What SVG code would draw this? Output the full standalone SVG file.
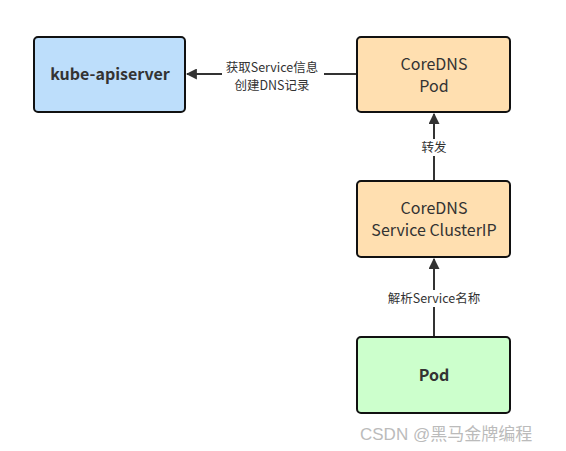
<svg xmlns="http://www.w3.org/2000/svg" width="566" height="451" viewBox="0 0 566 451">
<defs>
<style>
.box{stroke:#111;stroke-width:2}
.t{font-family:"Noto Sans CJK SC","Noto Sans",sans-serif;font-size:16px;fill:#333;text-anchor:middle}
.b{font-weight:bold}
.lbl{font-family:"Noto Sans CJK SC","Noto Sans",sans-serif;font-size:12.5px;fill:#333;text-anchor:middle}
.edge{stroke:#333;stroke-width:2;fill:none}
.wm{font-family:"Liberation Sans","Noto Sans CJK SC",sans-serif;font-size:17px;fill:#bbb}
</style>
<marker id="arr" viewBox="0 0 10 10" refX="9" refY="5" markerWidth="5.5" markerHeight="5.5" orient="auto">
<path d="M0,0 L10,5 L0,10 z" fill="#333"/>
</marker>
</defs>
<rect width="566" height="451" fill="#fff"/>
<g id="connectors">
<line class="edge" x1="434" y1="337" x2="434" y2="259" marker-end="url(#arr)"/>
<rect x="382" y="290" width="104" height="17" fill="#fff"/>
<text class="lbl" x="434" y="303">解析Service名称</text>
<line class="edge" x1="434" y1="181" x2="434" y2="114" marker-end="url(#arr)"/>
<rect x="418" y="139" width="32" height="17" fill="#fff"/>
<text class="lbl" x="434" y="152">转发</text>
<line class="edge" x1="357" y1="74" x2="187" y2="74" marker-end="url(#arr)"/>
<rect x="222" y="59" width="102" height="35" fill="#fff"/>
<text class="lbl" x="272" y="72">获取Service信息</text>
<text class="lbl" x="272" y="90">创建DNS记录</text>
</g>
<g id="kube-apiserver">
<rect class="box" x="34" y="37" width="151" height="75" rx="4" fill="#bddefb"/>
<text class="t b" x="110" y="80">kube-apiserver</text>
</g>
<g id="coredns-pod">
<rect class="box" x="357" y="37" width="153" height="75" rx="4" fill="#ffdfb0"/>
<text class="t" x="434" y="70">CoreDNS</text>
<text class="t" x="434" y="92">Pod</text>
</g>
<g id="coredns-service">
<rect class="box" x="357" y="181" width="153" height="76" rx="4" fill="#ffdfb0"/>
<text class="t" x="434" y="214">CoreDNS</text>
<text class="t" x="434" y="236">Service ClusterIP</text>
</g>
<g id="pod">
<rect class="box" x="357" y="337" width="153" height="76" rx="4" fill="#ccffcc"/>
<text class="t b" x="434" y="381">Pod</text>
</g>
<text class="wm" x="360" y="440">CSDN @黑马金牌编程</text>
</svg>
